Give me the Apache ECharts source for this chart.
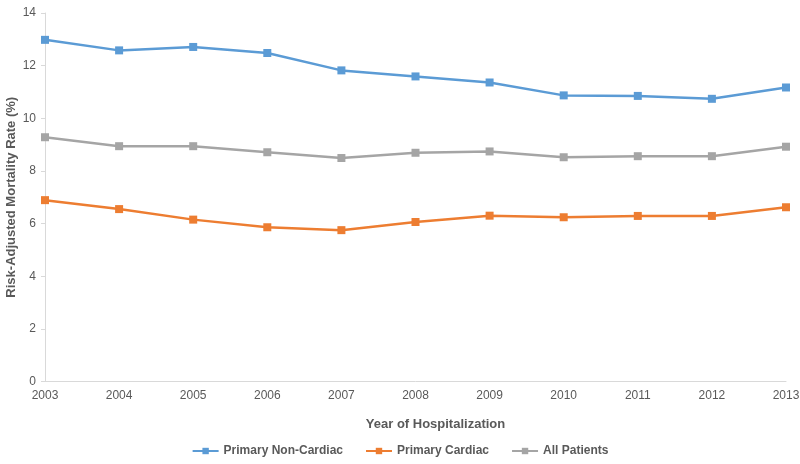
<!DOCTYPE html>
<html><head><meta charset="utf-8">
<script src="https://cdn.jsdelivr.net/npm/echarts@6/dist/echarts.min.js"></script>
<style>html,body{margin:0;padding:0;background:#fff}#c{width:800px;height:464px}</style>
</head><body><div id="c"></div>
<script>
const years = ['2003','2004','2005','2006','2007','2008','2009','2010','2011','2012','2013'];
const nonCardiac = [12.98, 12.58, 12.71, 12.48, 11.82, 11.59, 11.36, 10.87, 10.85, 10.74, 11.17];
const cardiac = [6.89, 6.55, 6.15, 5.86, 5.75, 6.06, 6.30, 6.24, 6.29, 6.29, 6.62];
const allPatients = [9.28, 8.94, 8.94, 8.71, 8.49, 8.69, 8.74, 8.52, 8.56, 8.56, 8.92];
const yTicks = [0, 2, 4, 6, 8, 10, 12, 14];

const font = 'Liberation Sans, Arial, sans-serif';
const chart = echarts.init(document.getElementById('c'));
function s(name, data, color) {
  return { name, type: 'line', data, symbol: 'rect', symbolSize: 8,
    lineStyle: { width: 2.5, color }, itemStyle: { color }, color };
}
chart.setOption({
  animation: false,
  textStyle: { fontFamily: font },
  grid: { left: 45, right: 14, top: 13, bottom: 82.5, containLabel: false, outerBoundsMode: 'none' },
  legend: {
    bottom: 2, left: 'center', itemWidth: 26, itemHeight: 8, itemGap: 22,
    textStyle: { fontFamily: font, fontSize: 12, fontWeight: 'bold', color: '#595959' },
    data: ['Primary Non-Cardiac', 'Primary Cardiac', 'All Patients']
  },
  xAxis: {
    type: 'category', data: years, boundaryGap: false,
    name: 'Year of Hospitalization', nameLocation: 'middle', nameGap: 36, nameMoveOverlap: false,
    nameTextStyle: { fontFamily: font, fontSize: 13, fontWeight: 'bold', color: '#595959', padding: [0, 0, 0, 40] },
    axisLine: { lineStyle: { color: '#d9d9d9', width: 1 } },
    axisTick: { show: false },
    axisLabel: { color: '#595959', fontSize: 12, margin: 8 }
  },
  yAxis: {
    type: 'value', min: 0, max: 14, interval: 2,
    name: 'Risk-Adjusted Mortality Rate (%)', nameLocation: 'middle', nameGap: 27, nameMoveOverlap: false,
    nameTextStyle: { fontFamily: font, fontSize: 13, fontWeight: 'bold', color: '#595959' },
    axisLine: { show: true, lineStyle: { color: '#d9d9d9', width: 1 } },
    axisTick: { show: true, length: 4, lineStyle: { color: '#d9d9d9' } },
    splitLine: { show: false },
    axisLabel: { color: '#595959', fontSize: 12, margin: 9,
      formatter: v => yTicks.includes(v) ? String(v) : '' }
  },
  series: [
    s('Primary Non-Cardiac', nonCardiac, '#5b9bd5'),
    s('Primary Cardiac', cardiac, '#ed7d31'),
    s('All Patients', allPatients, '#a5a5a5')
  ]
});
</script></body></html>
